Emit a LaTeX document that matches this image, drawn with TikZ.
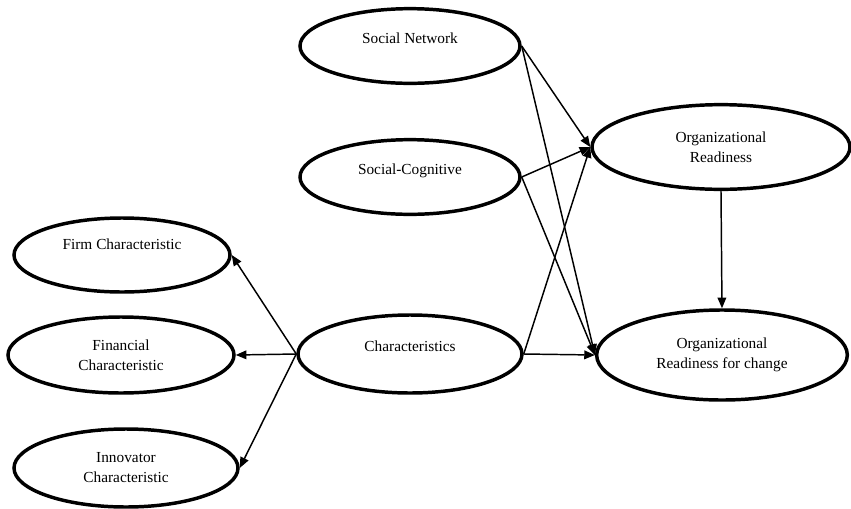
\documentclass[tikz,border=0pt]{standalone}
\usepackage{fontspec}
\setmainfont{Liberation Serif}
\usetikzlibrary{shapes.geometric,arrows.meta}

\begin{document}
\begin{tikzpicture}[x=0.75pt,y=-0.75pt,
		oval/.style={draw,ellipse,line width=2.6pt,inner sep=0pt},
		link/.style={line width=1.1pt,-{Triangle[length=8pt,width=6.5pt]}},
		every label/.style={align=center,font=\fontsize{11.5}{15}\selectfont}]
		\useasboundingbox (0,0) rectangle (851,508);

		% Left group
		\node[oval,minimum width=162pt,minimum height=55.5pt,label={[yshift=8pt]center:Firm Characteristic}] (firm) at (122,255) {};
		\node[oval,minimum width=169.5pt,minimum height=57pt,label={center:Financial\\Characteristic}] (fin) at (121,355) {};
		\node[oval,minimum width=168pt,minimum height=58.5pt,label={center:Innovator\\Characteristic}] (inno) at (126,468) {};

		% Middle group
		\node[oval,minimum width=165pt,minimum height=56pt,label={[yshift=6pt]center:Social Network}] (snet) at (410,46) {};
		\node[oval,minimum width=165pt,minimum height=56pt,label={[yshift=5pt]center:Social-Cognitive}] (scog) at (410,177) {};
		\node[oval,minimum width=168pt,minimum height=58.5pt,label={[yshift=6pt]center:Characteristics}] (chars) at (410,354) {};

		% Right group
		\node[oval,minimum width=193.5pt,minimum height=63.5pt,label={center:Organizational\\Readiness}] (orgr) at (721,147) {};
		\node[oval,minimum width=188pt,minimum height=67.5pt,label={center:Organizational\\Readiness for change}] (orgc) at (722,355) {};

		% Links
		\draw[link] (snet.east) -- (orgr.west);
		\draw[link] (snet.east) -- (orgc.west);
		\draw[link] (scog.east) -- (orgr.west);
		\draw[link] (scog.east) -- (orgc.west);
		\draw[link] (chars.east) -- (orgr.west);
		\draw[link] (chars.east) -- (orgc.west);
		\draw[link] (orgr.south) -- (orgc.north);
		\draw[link] (chars.west) -- (firm.east);
		\draw[link] (chars.west) -- (fin.east);
		\draw[link] (chars.west) -- (inno.east);
	\end{tikzpicture}
\end{document}
